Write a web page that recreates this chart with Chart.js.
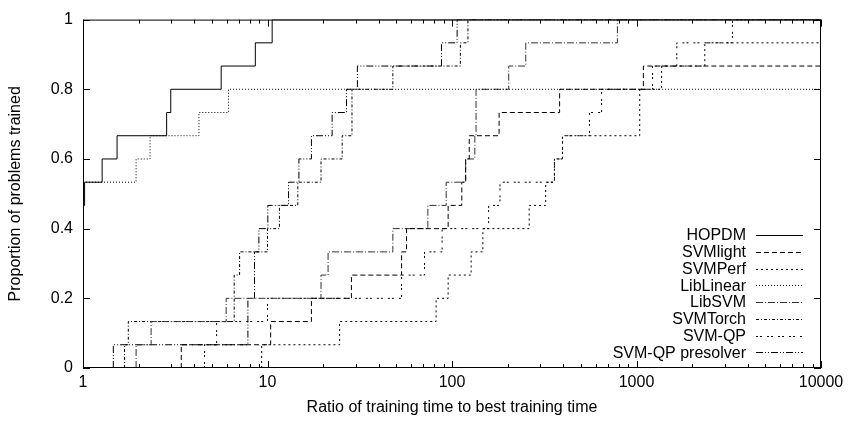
<!DOCTYPE html>
<html>
<head>
<meta charset="utf-8">
<script src="https://cdn.jsdelivr.net/npm/chart.js@4/dist/chart.umd.min.js"></script>
<style>
html,body{margin:0;padding:0;background:#fff;}
#wrap{width:849px;height:423px;position:relative;}
</style>
</head>
<body>
<div id="wrap"><canvas id="c" width="849" height="423"></canvas></div>
<script>
// ---- data: ratio at which each step happens, and proportion reached there ----
const seriesNames = ['HOPDM','SVMlight','SVMPerf','LibLinear','LibSVM','SVMTorch','SVM-QP','SVM-QP presolver'];

const hopdmX = [1, 1.02, 1.27, 1.53, 2.84, 2.99, 5.61, 8.59, 10.6, 10000];
const hopdmY = [0.4667, 0.5333, 0.6, 0.6667, 0.7333, 0.8, 0.8667, 0.9333, 1, 1];

const svmlightX = [3.41, 3.41, 10.4, 17.3, 28.5, 53.3, 56.7, 95.3, 113, 118.6, 124, 180, 383, 1090, 10000];
const svmlightY = [0, 0.0667, 0.1333, 0.2, 0.2667, 0.3333, 0.4, 0.4667, 0.5333, 0.6, 0.6667, 0.7333, 0.8, 0.8667, 0.8667];

const svmperfX = [9.3, 9.3, 24.6, 82, 95.3, 127, 147, 262, 322, 359, 397, 1041, 1368, 2346, 10000];
const svmperfY = [0, 0.0667, 0.1333, 0.2, 0.2667, 0.3333, 0.4, 0.4667, 0.5333, 0.6, 0.6667, 0.8, 0.8667, 0.9333, 0.9333];

const liblinearX = [1, 1.94, 2.31, 4.25, 6.15, 10000];
const liblinearY = [0.5333, 0.6, 0.6667, 0.7333, 0.8, 0.8];

const libsvmX = [1.94, 1.94, 2.34, 5.97, 19.5, 21.3, 47.8, 74, 93, 118.6, 133, 135, 203, 251, 788, 10000];
const libsvmY = [0, 0.0667, 0.1333, 0.2, 0.2667, 0.3333, 0.4, 0.4667, 0.5333, 0.6, 0.6667, 0.8, 0.8667, 0.9333, 1, 1];

const svmtorchX = [1.68, 1.68, 1.76, 6.6, 7.06, 10.0, 11.6, 14.6, 19.5, 25.4, 28.7, 47.8, 111, 122, 10000];
const svmtorchY = [0, 0.0667, 0.1333, 0.2667, 0.3333, 0.4, 0.4667, 0.5333, 0.6, 0.6667, 0.8, 0.8667, 0.9333, 1, 1];

const svmqpX = [4.56, 4.56, 5.3, 10.0, 53.3, 71, 88.4, 158, 182, 359, 397, 556, 647, 1222, 1654, 3311, 10000];
const svmqpY = [0, 0.0667, 0.1333, 0.2, 0.2667, 0.3333, 0.4, 0.4667, 0.5333, 0.6, 0.6667, 0.7333, 0.8, 0.8667, 0.9333, 1, 1];

const presolverX = [1.46, 1.46, 7.83, 8.5, 8.98, 10.04, 13.0, 14.8, 17.3, 22.4, 26.8, 30.7, 87.7, 106.6, 10000];
const presolverY = [0, 0.0667, 0.2, 0.3333, 0.4, 0.4667, 0.5333, 0.6, 0.6667, 0.7333, 0.8, 0.8667, 0.9333, 1, 1];

const xTickValues = [1, 10, 100, 1000, 10000];
const xTickLabels = ['1', '10', '100', '1000', '10000'];
const yTickValues = [0, 0.2, 0.4, 0.6, 0.8, 1];
const yTickLabels = ['0', '0.2', '0.4', '0.6', '0.8', '1'];

const xTitle = 'Ratio of training time to best training time';
const yTitle = 'Proportion of problems trained';

// ---- styles ----
const FONT = '"Liberation Sans", Arial, Helvetica, sans-serif';
const seriesX = [hopdmX, svmlightX, svmperfX, liblinearX, libsvmX, svmtorchX, svmqpX, presolverX];
const seriesY = [hopdmY, svmlightY, svmperfY, liblinearY, libsvmY, svmtorchY, svmqpY, presolverY];
const dashes = [[], [5,3], [2,3], [1,2], [7,2,1,2], [3,2,1,2], [2,2,2,5], [7,2,1,2,1,2]];
const colors = ['#000', '#000', '#000', '#000', '#333', '#000', '#000', '#000'];

const datasets = seriesNames.map((name, i) => ({
  label: name,
  data: seriesX[i].map((x, j) => ({x: x, y: seriesY[i][j]})),
  stepped: 'before',
  borderColor: colors[i],
  borderWidth: 1,
  borderDash: dashes[i],
  pointRadius: 0,
  fill: false,
  tension: 0
}));

const decor = {
  id: 'decor',
  afterDraw(chart) {
    const ctx = chart.ctx;
    const ca = chart.chartArea;
    const xs = chart.scales.x, ys = chart.scales.y;
    ctx.save();
    ctx.strokeStyle = '#000';
    ctx.lineWidth = 1;
    ctx.setLineDash([]);
    // frame
    ctx.strokeRect(ca.left + 0.5, ca.top + 0.5, ca.right - ca.left - 1, ca.bottom - ca.top - 1);
    ctx.beginPath();
    // x ticks (major + minor), bottom and top, pointing inward
    for (let d = 0; d < xTickValues.length; d++) {
      const base = xTickValues[d];
      for (let m = 1; m <= 9; m++) {
        const v = base * m;
        if (v > 10000) break;
        const px = Math.round(xs.getPixelForValue(v)) + 0.5;
        const len = (m === 1) ? 7 : 4;
        ctx.moveTo(px, ca.bottom); ctx.lineTo(px, ca.bottom - len);
        ctx.moveTo(px, ca.top); ctx.lineTo(px, ca.top + len);
      }
    }
    // y ticks, left and right
    yTickValues.forEach(v => {
      const py = Math.round(ys.getPixelForValue(v)) + 0.5;
      ctx.moveTo(ca.left, py); ctx.lineTo(ca.left + 7, py);
      ctx.moveTo(ca.right, py); ctx.lineTo(ca.right - 7, py);
    });
    ctx.stroke();

    // legend
    ctx.font = '16px ' + FONT;
    ctx.fillStyle = '#000';
    ctx.textAlign = 'right';
    ctx.textBaseline = 'middle';
    seriesNames.forEach((name, i) => {
      const y = 235 + i * 16.75;
      ctx.fillText(name, 746, y + 1);
      ctx.beginPath();
      ctx.setLineDash(dashes[i]);
      ctx.strokeStyle = colors[i];
      ctx.moveTo(756, Math.round(y) + 0.5);
      ctx.lineTo(803, Math.round(y) + 0.5);
      ctx.stroke();
    });
    ctx.setLineDash([]);

    // axis titles
    ctx.fillStyle = '#000';
    ctx.textAlign = 'center';
    ctx.textBaseline = 'middle';
    ctx.fillText(xTitle, (ca.left + ca.right) / 2, 408);
    ctx.translate(16, (ca.top + ca.bottom) / 2);
    ctx.rotate(-Math.PI / 2);
    ctx.fillText(yTitle, 0, 0);
    ctx.restore();
  }
};

new Chart(document.getElementById('c'), {
  type: 'line',
  data: { datasets: datasets },
  options: {
    responsive: false,
    animation: false,
    devicePixelRatio: 1,
    layout: { padding: { top: 10, right: 28, left: 0, bottom: 0 } },
    plugins: { legend: { display: false }, tooltip: { enabled: false } },
    scales: {
      x: {
        type: 'logarithmic',
        min: 1, max: 10000,
        grid: { display: false, drawTicks: false },
        border: { display: false },
        afterBuildTicks: (s) => { s.ticks = xTickValues.map(v => ({ value: v })); },
        afterFit: (s) => { s.height = 55; },
        ticks: {
          autoSkip: false, maxRotation: 0,
          color: '#000',
          font: { family: FONT, size: 16 },
          padding: 5,
          callback: (v, i) => xTickLabels[i]
        }
      },
      y: {
        type: 'linear',
        min: 0, max: 1,
        grid: { display: false, drawTicks: false },
        border: { display: false },
        afterBuildTicks: (s) => { s.ticks = yTickValues.map(v => ({ value: v })); },
        afterFit: (s) => { s.width = 83; },
        ticks: {
          autoSkip: false,
          color: '#000',
          font: { family: FONT, size: 16 },
          padding: 10,
          callback: (v, i) => yTickLabels[i]
        }
      }
    }
  },
  plugins: [decor]
});
</script>
</body>
</html>
